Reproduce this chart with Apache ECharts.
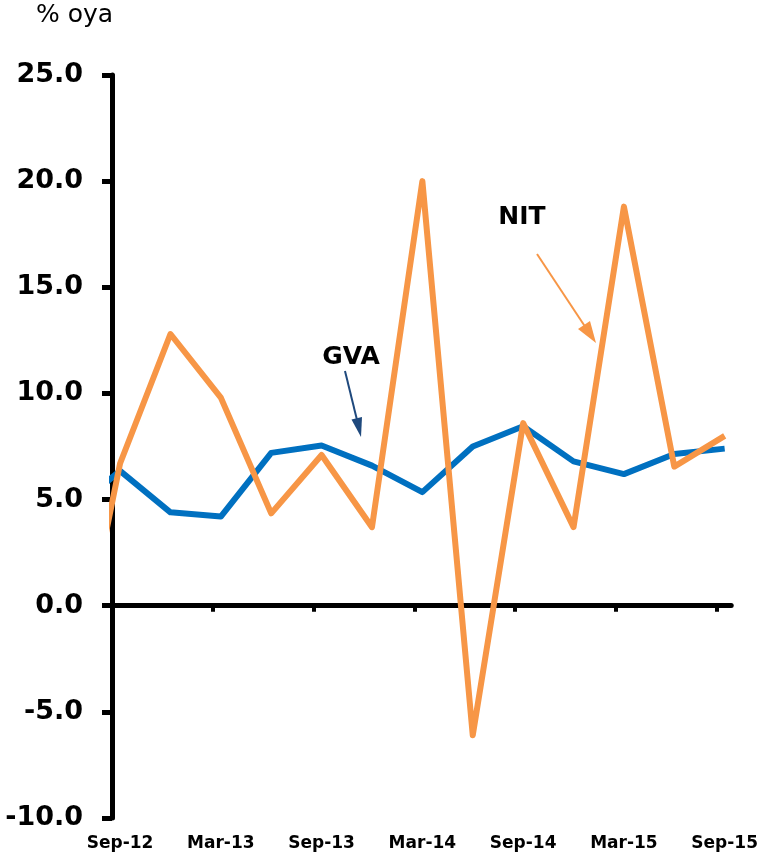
<!DOCTYPE html>
<html>
<head>
<meta charset="utf-8">
<title>GVA vs NIT growth</title>
<script src="https://cdn.jsdelivr.net/npm/echarts@6/dist/echarts.min.js"></script>
<style>
  html, body { margin: 0; padding: 0; background: #ffffff; }
  #chart { width: 761px; height: 857px; }
</style>
</head>
<body>
<div id="chart"></div>
<script>
// Quarterly periods; the first one sits just left of the plot edge and is clipped
const quarters = ['Jun-12', 'Sep-12', 'Dec-12', 'Mar-13', 'Jun-13', 'Sep-13', 'Dec-13',
  'Mar-14', 'Jun-14', 'Sep-14', 'Dec-14', 'Mar-15', 'Jun-15', 'Sep-15'];

// Growth, % over year ago
const gvaValues = [4.4, 6.35, 4.4, 4.2, 7.2, 7.55, 6.6, 5.35, 7.5, 8.45, 6.8, 6.2, 7.15, 7.4];
const nitValues = [-5.0, 6.7, 12.8, 9.8, 4.35, 7.1, 3.7, 20.0, -6.1, 8.6, 3.7, 18.8, 6.55, 8.0];

// Axis settings
const yTicks = [-10, -5, 0, 5, 10, 15, 20, 25];
const labelQuarters = ['Sep-12', 'Mar-13', 'Sep-13', 'Mar-14', 'Sep-14', 'Mar-15', 'Sep-15'];

const xMin = 0.84;
const xMax = 13.13;
const labelPositions = labelQuarters.map(q => quarters.indexOf(q));
const tickPositions = labelPositions.map(p => +(p - 0.16).toFixed(2));

const toPairs = vals => vals.map((v, i) => [i, v]);

const FONT = 'DejaVu Sans';
const chart = echarts.init(document.getElementById('chart'), null, { renderer: 'canvas' });

chart.setOption({
  animation: false,
  backgroundColor: '#ffffff',
  grid: { left: 112, right: 27, top: 75, bottom: 39, containLabel: false },
  xAxis: [
    {
      type: 'value',
      min: xMin,
      max: xMax,
      axisLine: { show: true, onZero: true, lineStyle: { color: '#000', width: 5 } },
      axisTick: { show: true, customValues: tickPositions, length: 6, lineStyle: { color: '#000', width: 4 } },
      axisLabel: { show: false },
      splitLine: { show: false }
    },
    {
      type: 'value',
      position: 'bottom',
      min: xMin,
      max: xMax,
      axisLine: { show: false, onZero: false },
      axisTick: { show: false },
      splitLine: { show: false },
      axisLabel: {
        show: true,
        customValues: labelPositions,
        formatter: v => quarters[Math.round(v)],
        margin: 17,
        fontFamily: FONT,
        fontWeight: 'bold',
        fontSize: 17,
        color: '#000'
      }
    }
  ],
  yAxis: {
    type: 'value',
    min: yTicks[0],
    max: yTicks[yTicks.length - 1],
    interval: 5,
    axisLine: { show: true, lineStyle: { color: '#000', width: 5 } },
    axisTick: { show: true, length: 10, lineStyle: { color: '#000', width: 5 } },
    splitLine: { show: false },
    axisLabel: {
      formatter: v => v.toFixed(1),
      margin: 29,
      fontFamily: FONT,
      fontWeight: 'bold',
      fontSize: 27,
      color: '#000'
    }
  },
  series: [
    {
      name: 'GVA',
      type: 'line',
      xAxisIndex: 0,
      data: toPairs(gvaValues),
      showSymbol: false,
      symbol: 'none',
      clip: true,
      lineStyle: { color: '#0070C0', width: 6, join: 'round' },
      z: 2
    },
    {
      name: 'NIT',
      type: 'line',
      xAxisIndex: 0,
      data: toPairs(nitValues),
      showSymbol: false,
      symbol: 'none',
      clip: true,
      lineStyle: { color: '#F79646', width: 6, join: 'round' },
      z: 3
    }
  ],
  graphic: [
    {
      type: 'text', left: 36, top: 3,
      style: { text: '% oya', fontFamily: FONT, fontSize: 25, fill: '#000' }
    },
    {
      type: 'text', x: 351, y: 357,
      style: { text: 'GVA', fontFamily: FONT, fontWeight: 'bold', fontSize: 25, fill: '#000', align: 'center', verticalAlign: 'middle' }
    },
    {
      type: 'line',
      shape: { x1: 345, y1: 371, x2: 357, y2: 420 },
      style: { stroke: '#1F497D', lineWidth: 2 }
    },
    {
      type: 'polygon',
      shape: { points: [[361, 437], [351.5, 419.5], [362, 417]] },
      style: { fill: '#1F497D' }
    },
    {
      type: 'text', x: 522, y: 217,
      style: { text: 'NIT', fontFamily: FONT, fontWeight: 'bold', fontSize: 25, fill: '#000', align: 'center', verticalAlign: 'middle' }
    },
    {
      type: 'line',
      shape: { x1: 537, y1: 254, x2: 586, y2: 328 },
      style: { stroke: '#F79646', lineWidth: 2 }
    },
    {
      type: 'polygon',
      shape: { points: [[596, 343], [578, 329], [590, 321]] },
      style: { fill: '#F79646' }
    }
  ]
});
</script>
</body>
</html>
